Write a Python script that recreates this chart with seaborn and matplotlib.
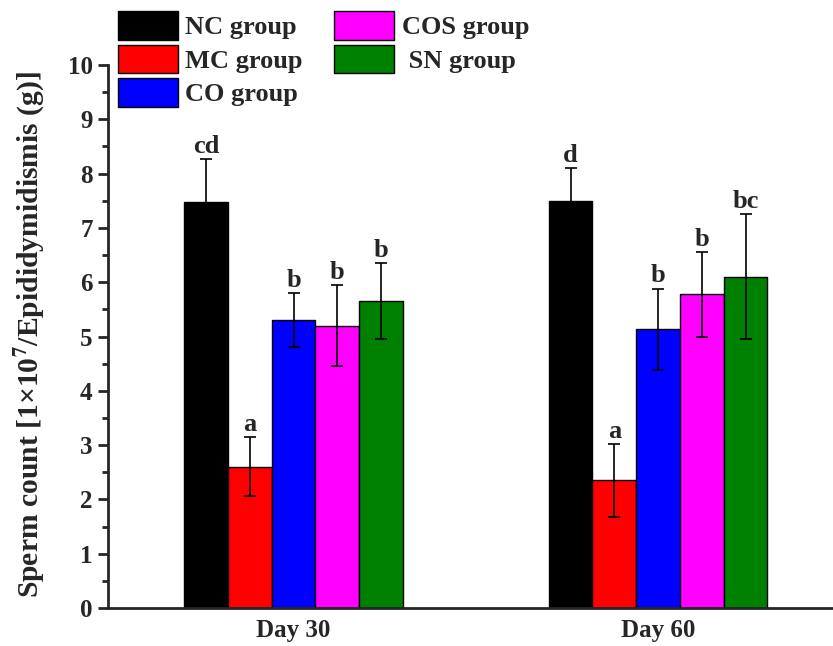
import matplotlib
matplotlib.use("Agg")
import matplotlib.pyplot as plt
import seaborn as sns
import pandas as pd
from matplotlib.ticker import MultipleLocator
from matplotlib.patches import Rectangle

days = ["Day 30", "Day 60"]
groups = ["NC group", "MC group", "CO group", "COS group", " SN group"]
colors = ["#000000", "#FF0000", "#0000FF", "#FF00FF", "#008000"]

nc_mean = [7.47, 7.50]
mc_mean = [2.60, 2.35]
co_mean = [5.30, 5.13]
cos_mean = [5.20, 5.78]
sn_mean = [5.65, 6.10]

nc_sd = [0.80, 0.60]
mc_sd = [0.54, 0.67]
co_sd = [0.50, 0.75]
cos_sd = [0.74, 0.78]
sn_sd = [0.70, 1.15]

nc_sig = ["cd", "d"]
mc_sig = ["a", "a"]
co_sig = ["b", "b"]
cos_sig = ["b", "b"]
sn_sig = ["b", "bc"]

means = [nc_mean, mc_mean, co_mean, cos_mean, sn_mean]
sds = [nc_sd, mc_sd, co_sd, cos_sd, sn_sd]
sigs = [nc_sig, mc_sig, co_sig, cos_sig, sn_sig]

rows = []
for g, m in zip(groups, means):
    for d, v in zip(days, m):
        rows.append({"Day": d, "Group": g, "Count": v})
df = pd.DataFrame(rows)

sns.set_theme(style="ticks")
plt.rcParams["font.family"] = ["Liberation Serif", "DejaVu Serif"]
plt.rcParams["font.weight"] = "bold"
plt.rcParams["mathtext.fontset"] = "stix"

fig = plt.figure(figsize=(8.33, 6.46), dpi=100)
ax = fig.add_axes([108 / 833, 38 / 646, 1 - 108 / 833, 543 / 646])

sns.barplot(data=df, x="Day", y="Count", hue="Group", hue_order=groups,
            order=days, palette=colors, width=0.6, errorbar=None,
            edgecolor="black", linewidth=1.0, saturation=1, ax=ax)

bars = [p for p in ax.patches if isinstance(p, Rectangle) and p.get_height() > 0]
for j in range(len(days)):
    grp = sorted([b for b in bars if round(b.get_x() + b.get_width() / 2) == j],
                 key=lambda b: b.get_x())
    for i, bar in enumerate(grp):
        x = bar.get_x() + bar.get_width() / 2
        y = bar.get_height()
        e = sds[i][j]
        ax.errorbar(x, y, yerr=e, color="black", capsize=4.5,
                    elinewidth=1.2, capthick=1.2, fmt="none", zorder=5)
        ax.annotate(sigs[i][j], (x, y + e), xytext=(0, 4.5),
                    textcoords="offset points", ha="center", va="baseline",
                    fontsize=19, fontweight="bold")

handles, labels = ax.get_legend_handles_labels()
if ax.get_legend() is not None:
    ax.get_legend().remove()
fig.legend(handles, labels, loc="upper left", bbox_to_anchor=(118 / 833, 1 - 11 / 646),
           ncol=2, frameon=False, handlelength=2.27, handleheight=1.3,
           labelspacing=0.18, columnspacing=1.2, handletextpad=0.28,
           borderpad=0, borderaxespad=0, prop={"weight": "bold", "size": 19})

ax.set_xlim(-0.509, 1.48)
ax.set_ylim(0, 10)
ax.yaxis.set_major_locator(MultipleLocator(1))
ax.yaxis.set_minor_locator(MultipleLocator(0.5))
ax.tick_params(axis="y", which="major", length=7, width=2, direction="out",
               labelsize=18, pad=4)
ax.tick_params(axis="y", which="minor", length=4, width=2, direction="out")
ax.tick_params(axis="x", which="major", length=0, labelsize=18, pad=8)
for lab in ax.get_xticklabels() + ax.get_yticklabels():
    lab.set_fontweight("bold")

ax.set_xlabel("")
ax.set_ylabel(r"Sperm count [1×10$^{\mathbf{7}}$/Epididymidismis (g)]",
              fontsize=21.3, fontweight="bold")
ax.yaxis.label.set_va("center")
ax.yaxis.set_label_coords(-0.110, 0.503)

sns.despine(ax=ax, top=True, right=True)
for s in ["left", "bottom"]:
    ax.spines[s].set_linewidth(2)

fig.savefig("out.png", dpi=100)
